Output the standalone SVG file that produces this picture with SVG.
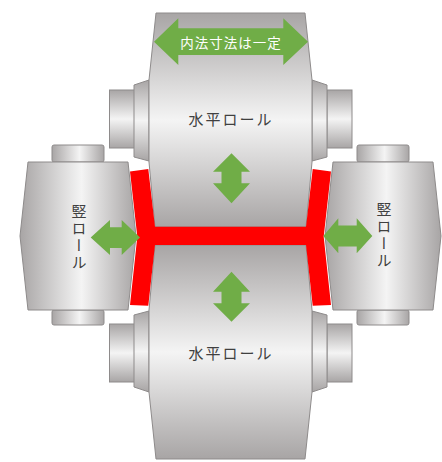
<svg xmlns="http://www.w3.org/2000/svg" width="442" height="462" viewBox="0 0 442 462">
<defs>
<linearGradient id="gv" x1="0" y1="0" x2="0" y2="1">
<stop offset="0" stop-color="#a8a5a5"/><stop offset="0.5" stop-color="#f4f4f4"/><stop offset="1" stop-color="#a8a5a5"/>
</linearGradient>
<linearGradient id="gh" x1="0" y1="0" x2="1" y2="0">
<stop offset="0" stop-color="#a8a5a5"/><stop offset="0.53" stop-color="#f4f4f4"/><stop offset="1" stop-color="#a8a5a5"/>
</linearGradient>
<style>
.m{stroke:#8e8b8b;stroke-width:1}
.v{fill:url(#gv)}
.h{fill:url(#gh)}
.arr{fill:#70AD47}
.web{fill:#FF0000}
.lbl{font-family:"Noto Sans CJK JP","Noto Sans",sans-serif;font-size:15px;fill:#404040;text-anchor:middle;dominant-baseline:central}
.vt{font-family:"Noto Sans CJK JP","Noto Sans",sans-serif;font-size:15px;fill:#404040;text-anchor:middle;writing-mode:vertical-rl;letter-spacing:2px}
.wl{font-family:"Noto Sans CJK JP","Noto Sans",sans-serif;font-size:13.5px;fill:#ffffff;text-anchor:middle;dominant-baseline:central;letter-spacing:1px}
</style>
</defs>
<rect width="442" height="462" fill="#ffffff"/>
<g id="top-roll">
<rect class="m v" x="109.5" y="90" width="25" height="58"/>
<rect class="m v" x="327" y="90" width="25" height="58"/>
<polygon class="m v" points="134,85 149,80 149,161 134,157"/>
<polygon class="m v" points="327,85 312,80 312,161 327,157"/>
<polygon class="m v" points="156,13 305,13 312,80 312,162 306,227 155,227 149,162 149,80"/>
<text class="lbl" x="231" y="118" letter-spacing="2">水平ロール</text>
</g>
<g id="bottom-roll">
<rect class="m v" x="109.5" y="324" width="25" height="58"/>
<rect class="m v" x="327" y="324" width="25" height="58"/>
<polygon class="m v" points="134,387 149,392 149,311 134,315"/>
<polygon class="m v" points="327,387 312,392 312,311 327,315"/>
<polygon class="m v" points="156,459 305,459 312,392 312,310 306,245 155,245 149,310 149,392"/>
<text class="lbl" x="231" y="352" letter-spacing="2">水平ロール</text>
</g>
<g id="left-roll">
<rect class="m h" x="52" y="145" width="52" height="17" rx="2"/>
<rect class="m h" x="52" y="310" width="52" height="15" rx="2"/>
<polygon class="m h" points="28,162 128,162 136,236 128,310 28,310 20,236"/>
<text class="vt" x="79" y="238">竪ロール</text>
</g>
<g id="right-roll">
<rect class="m h" x="357" y="145" width="52" height="17" rx="2"/>
<rect class="m h" x="357" y="310" width="52" height="15" rx="2"/>
<polygon class="m h" points="433,162 333,162 325,236 333,310 433,310 441,236"/>
<text class="vt" x="384" y="236">竪ロール</text>
</g>
<g id="web">
<polygon class="web" points="130,171.5 148.3,169 155,226.7 306,226.7 312.7,169 331,171.5 323.7,236.7 331,305 312.7,305.7 306,245 155,245 148.3,305.7 130,305 137.3,236.7"/>
</g>
<g id="arrows">
<g id="width-arrow">
<polygon class="arr" points="154,41.7 178.3,18.3 178.3,28.3 283.3,28.3 283.3,18.3 308,41.7 283.3,65 283.3,55 178.3,55 178.3,65"/>
<text class="wl" x="231" y="42">内法寸法は一定</text>
</g>
<polygon id="top-arrow" class="arr" points="231.5,153.3 250,171.7 241.5,171.7 241.5,183.3 250,183.3 231.5,203.3 213,183.3 221.5,183.3 221.5,171.7 213,171.7"/>
<polygon id="bottom-arrow" class="arr" points="231.5,271.7 250,291.7 241.5,291.7 241.5,303.3 250,303.3 231.5,321.7 213,303.3 221.5,303.3 221.5,291.7 213,291.7"/>
<polygon id="left-arrow" class="arr" points="90.7,237.5 110,220 110,227.3 121.7,227.3 121.7,220 140,237.5 121.7,255 121.7,248 110,248 110,255"/>
<polygon id="right-arrow" class="arr" points="323.3,236 338.3,218.3 338.3,225.5 356.7,225.5 356.7,218.3 372.3,236 356.7,253.3 356.7,246.5 338.3,246.5 338.3,253.3"/>
</g>
</svg>
